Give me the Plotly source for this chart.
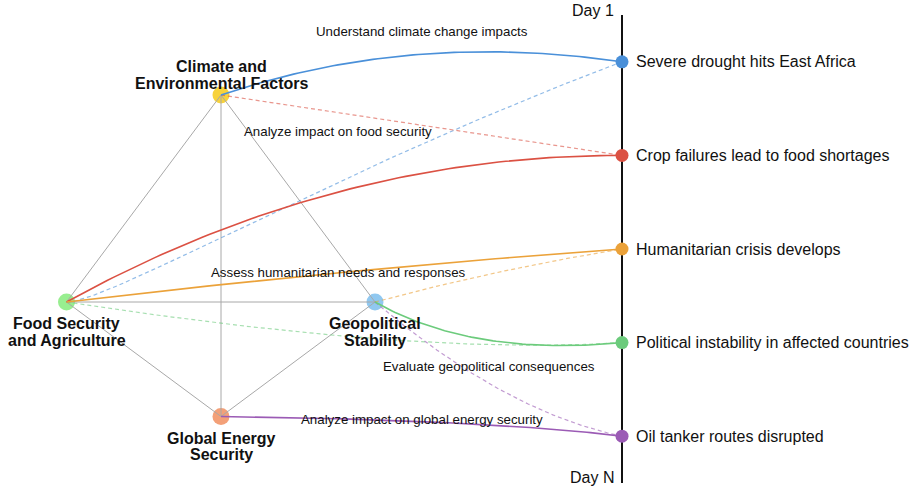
import numpy as np
import plotly.graph_objects as go

# ---------------- data ----------------
factor_names = [
    "Climate and<br>Environmental Factors",
    "Food Security<br>and Agriculture",
    "Geopolitical<br>Stability",
    "Global Energy<br>Security",
]
event_names = [
    "Severe drought hits East Africa",
    "Crop failures lead to food shortages",
    "Humanitarian crisis develops",
    "Political instability in affected countries",
    "Oil tanker routes disrupted",
]
timeline_labels = ["Day 1", "Day N"]
# primary (solid, labelled) link for each event: factor index
primary_source = [0, 1, 1, 2, 3]
primary_labels = [
    "Understand climate change impacts",
    "Analyze impact on food security",
    "Assess humanitarian needs and responses",
    "Evaluate geopolitical consequences",
    "Analyze impact on global energy security",
]
# secondary (dashed) link for each event: factor index
secondary_source = [1, 0, 2, 1, 2]

# ---------------- layout / style ----------------
W, H = 910, 488
FONT = "Liberation Sans, Arial, Helvetica, sans-serif"
factor_pos = [(221, 95), (66.5, 302), (375, 302), (221, 416.5)]
factor_colors = ["#F7D23C", "#98EE90", "#90C8F0", "#F3A078"]
factor_label_side = [-1, 1, 1, 1]  # -1 above, 1 below
event_colors = ["#4A90D9", "#DB5143", "#EBA23A", "#6CCB7C", "#9B5BB5"]
tl_x, tl_top, tl_bottom = 622, 15, 483
edge_color = "#A8A8A8"

# bezier control points (pixel geometry) for each link
primary_ctrl = [[(410, 31)], [(333, 155)], [(344, 269)], [(472, 357)], [(492, 420)]]
secondary_ctrl = [[(110, 302), (330, 172)], [], [(498, 269)], [(420, 356)], [(505, 412)]]
primary_label_pos = [(422, 31), (338, 131), (338, 272), (489, 366), (422, 419)]

n_ev = len(event_names)
event_y = [tl_top + (i + 0.5) / n_ev * (tl_bottom - tl_top) for i in range(n_ev)]


def bezier(p0, ctrls, p1, n=80):
    pts = [np.array(p0, float)] + [np.array(c, float) for c in ctrls] + [np.array(p1, float)]
    t = np.linspace(0, 1, n)[:, None]
    while len(pts) > 1:
        pts = [(1 - t) * pts[i] + t * pts[i + 1] for i in range(len(pts) - 1)]
    return pts[0][:, 0], pts[0][:, 1]


fig = go.Figure()

# nodes (drawn first; lines pass over them)
fig.add_trace(go.Scatter(
    x=[p[0] for p in factor_pos], y=[p[1] for p in factor_pos], mode="markers",
    marker=dict(size=17, color=factor_colors, line=dict(width=0)), hoverinfo="skip"))

# grey edges between every pair of factors
for i in range(len(factor_pos)):
    for j in range(i + 1, len(factor_pos)):
        fig.add_trace(go.Scatter(
            x=[factor_pos[i][0], factor_pos[j][0]], y=[factor_pos[i][1], factor_pos[j][1]],
            mode="lines", line=dict(color=edge_color, width=1), hoverinfo="skip"))

# secondary dashed links
for e in range(n_ev):
    src = factor_pos[secondary_source[e]]
    xs, ys = bezier(src, secondary_ctrl[e], (tl_x, event_y[e]))
    fig.add_trace(go.Scatter(x=xs, y=ys, mode="lines", opacity=0.6,
                             line=dict(color=event_colors[e], width=1.2, dash="4px,3px"),
                             hoverinfo="skip"))

# primary solid links
for e in range(n_ev):
    src = factor_pos[primary_source[e]]
    xs, ys = bezier(src, primary_ctrl[e], (tl_x, event_y[e]))
    fig.add_trace(go.Scatter(x=xs, y=ys, mode="lines",
                             line=dict(color=event_colors[e], width=1.6), hoverinfo="skip"))

# timeline
fig.add_trace(go.Scatter(x=[tl_x, tl_x], y=[tl_top, tl_bottom], mode="lines",
                         line=dict(color="#111111", width=2), hoverinfo="skip"))

# event dots
fig.add_trace(go.Scatter(x=[tl_x] * n_ev, y=event_y, mode="markers",
                         marker=dict(size=13, color=event_colors, line=dict(width=0)),
                         hoverinfo="skip"))

ann = []
# event labels
for e in range(n_ev):
    ann.append(dict(x=tl_x + 12, y=event_y[e], text=event_names[e], xanchor="left",
                    yanchor="middle", showarrow=False, font=dict(size=16, color="#111111", family=FONT)))
# timeline end labels
ann.append(dict(x=tl_x - 6, y=10, text=timeline_labels[0], xanchor="right", yanchor="middle",
                showarrow=False, font=dict(size=16, color="#111111", family=FONT)))
ann.append(dict(x=tl_x - 6, y=477, text=timeline_labels[1], xanchor="right", yanchor="middle",
                showarrow=False, font=dict(size=16, color="#111111", family=FONT)))
# link labels
for e in range(n_ev):
    ann.append(dict(x=primary_label_pos[e][0], y=primary_label_pos[e][1], text=primary_labels[e],
                    xanchor="center", yanchor="middle", showarrow=False,
                    font=dict(size=13.3, color="#111111", family=FONT)))
# factor labels (one annotation per line for tight line spacing)
for k, name in enumerate(factor_names):
    lines = name.split("<br>")
    px, py = factor_pos[k]
    if factor_label_side[k] < 0:
        offs = [-28.3, -11.7]
    else:
        offs = [21.5, 38]
    for ln, off in zip(lines, offs):
        ann.append(dict(x=px, y=py + off, text="<b>" + ln + "</b>", xanchor="center",
                        yanchor="middle", showarrow=False,
                        font=dict(size=16, color="#111111", family=FONT)))

fig.update_layout(
    width=W, height=H, margin=dict(l=0, r=0, t=0, b=0),
    paper_bgcolor="white", plot_bgcolor="white", showlegend=False,
    xaxis=dict(range=[0, W], visible=False, fixedrange=True),
    yaxis=dict(range=[H, 0], visible=False, fixedrange=True),
    annotations=ann,
)

fig.write_html("out.html", config={"displayModeBar": False},
               post_script="document.body.style.margin='0';")
